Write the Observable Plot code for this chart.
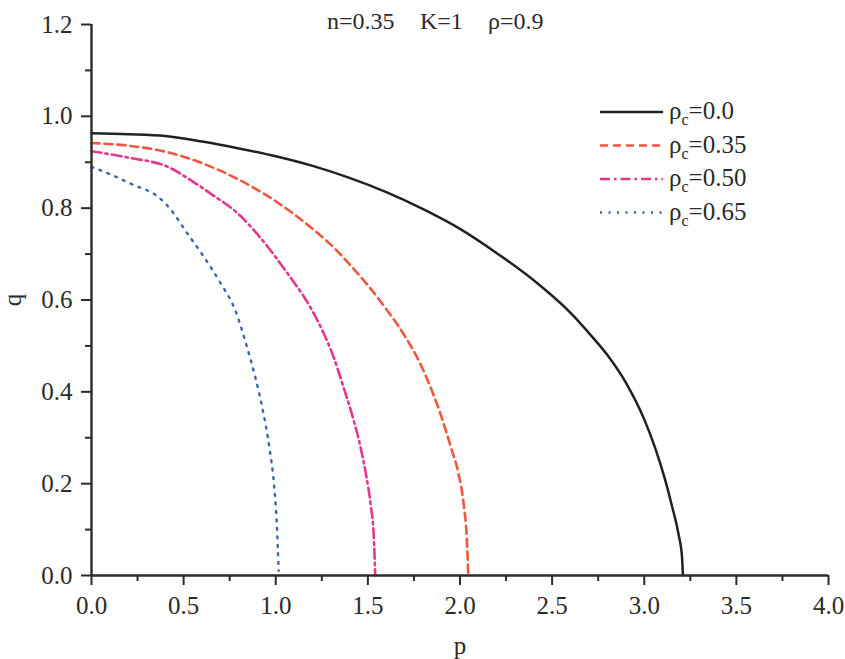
<!DOCTYPE html>
<html><head><meta charset="utf-8">
<script src="https://cdn.jsdelivr.net/npm/d3@7"></script>
<script src="https://cdn.jsdelivr.net/npm/@observablehq/plot@0.6"></script>
<style>
body{margin:0;background:#fff;}
#wrap{position:relative;width:845px;height:659px;font-family:"Liberation Serif","Times New Roman",serif;color:#2b2b28;}
.tt{position:absolute;top:9px;font-size:24px;line-height:24px;white-space:pre;}
#legend{position:absolute;left:0;top:0;pointer-events:none;}
</style></head><body><div id="wrap"></div>
<script>
// ---- data ----
const titleParts = ["n=0.35", "K=1", "ρ=0.9"];
const seriesLabels = ["0.0", "0.35", "0.50", "0.65"];
const xTicks = [0, 0.5, 1, 1.5, 2, 2.5, 3, 3.5, 4];
const xMinor = [0.25, 0.75, 1.25, 1.75, 2.25, 2.75, 3.25, 3.75];
const yTicks = [0, 0.2, 0.4, 0.6, 0.8, 1.0, 1.2];
const yMinor = [0.1, 0.3, 0.5, 0.7, 0.9, 1.1];

const p00 = [0, 0.2, 0.4, 0.6, 0.8, 1.0, 1.2, 1.4, 1.6, 1.8, 2.0, 2.2, 2.4, 2.6, 2.7, 2.8, 2.9, 3.0, 3.06, 3.11, 3.15, 3.185, 3.205, 3.21];
const q00 = [0.963, 0.961, 0.957, 0.945, 0.930, 0.913, 0.892, 0.866, 0.835, 0.798, 0.755, 0.702, 0.643, 0.572, 0.528, 0.48, 0.42, 0.34, 0.277, 0.213, 0.152, 0.092, 0.04, 0.0];

const p35 = [0, 0.2, 0.4, 0.6, 0.8, 1.0, 1.2, 1.3, 1.4, 1.5, 1.6, 1.7, 1.78, 1.85, 1.9, 1.95, 1.99, 2.02, 2.037, 2.045];
const q35 = [0.942, 0.936, 0.923, 0.898, 0.862, 0.815, 0.755, 0.72, 0.678, 0.632, 0.58, 0.522, 0.465, 0.40, 0.345, 0.28, 0.225, 0.155, 0.08, 0.0];

const p50 = [0, 0.2, 0.42, 0.55, 0.66, 0.79, 0.924, 1.06, 1.185, 1.255, 1.31, 1.364, 1.418, 1.46, 1.49, 1.515, 1.532, 1.54];
const q50 = [0.924, 0.910, 0.889, 0.858, 0.828, 0.790, 0.732, 0.66, 0.586, 0.532, 0.480, 0.415, 0.345, 0.28, 0.22, 0.155, 0.085, 0.0];

const p65 = [0, 0.1, 0.22, 0.37, 0.43, 0.52, 0.6, 0.7, 0.78, 0.84, 0.89, 0.93, 0.965, 0.99, 1.006, 1.016];
const q65 = [0.89, 0.874, 0.852, 0.822, 0.797, 0.745, 0.70, 0.637, 0.578, 0.503, 0.43, 0.36, 0.28, 0.2, 0.11, 0.01];

// ---- styles ----
const styles = [
  {stroke: "#1c241c", dash: null, width: 2.5},
  {stroke: "#f0573f", dash: "8,5", width: 2.6},
  {stroke: "#e2388f", dash: "10,4,2.5,4", width: 2.6},
  {stroke: "#4062b0", dash: "2,6.5", width: 2.4}
];
const toRows = (ps, qs) => ps.map((p, i) => ({p, q: qs[i]}));
const curves = [toRows(p00, q00), toRows(p35, q35), toRows(p50, q50), toRows(p65, q65)];

const axisColor = "#2b2b28";
const fmt = d3.format(".1f");

const lineMarks = curves.map((rows, i) => Plot.line(rows, {
  x: "p", y: "q", curve: "monotone-x",
  stroke: styles[i].stroke, strokeWidth: styles[i].width,
  strokeDasharray: styles[i].dash
}));

const chart = Plot.plot({
  width: 845, height: 659,
  marginLeft: 91, marginRight: 17, marginTop: 24, marginBottom: 84,
  style: {fontFamily: "'Liberation Serif','Times New Roman',serif", fontSize: "25px", color: axisColor, background: "#fff", overflow: "visible"},
  x: {domain: [0, 4]},
  y: {domain: [0, 1.2]},
  marks: [
    Plot.axisX({ticks: xMinor, tickSize: 6, tickFormat: () => "", label: null, strokeWidth: 2}),
    Plot.axisX({ticks: xTicks, tickSize: 10, tickPadding: 11, tickFormat: fmt, label: "p", labelAnchor: "center", labelArrow: "none", labelOffset: 78, strokeWidth: 2}),
    Plot.axisY({ticks: yMinor, tickSize: 6, tickFormat: () => "", label: null, strokeWidth: 2}),
    Plot.axisY({ticks: yTicks, tickSize: 10, tickPadding: 9, tickFormat: fmt, label: "q", labelAnchor: "center", labelArrow: "none", strokeWidth: 2}),
    ...lineMarks,
    Plot.ruleY([0], {stroke: axisColor, strokeWidth: 2.4}),
    Plot.ruleX([0], {stroke: axisColor, strokeWidth: 2.4})
  ]
});
const wrap = document.getElementById("wrap");
wrap.appendChild(chart);

// title
const titleLefts = [327, 420, 488];
titleParts.forEach((t, i) => {
  const s = document.createElement("div");
  s.className = "tt"; s.style.left = titleLefts[i] + "px"; s.textContent = t;
  wrap.appendChild(s);
});

// legend
const lg = d3.select(wrap).append("svg").attr("id", "legend").attr("width", 845).attr("height", 659);
seriesLabels.forEach((lab, i) => {
  const y = 112 + i * 33.5;
  lg.append("line").attr("x1", 600).attr("x2", 663).attr("y1", y).attr("y2", y)
    .attr("stroke", styles[i].stroke).attr("stroke-width", styles[i].width)
    .attr("stroke-dasharray", styles[i].dash);
  const t = lg.append("text").attr("x", 669).attr("y", y + 7)
    .attr("font-family", "'Liberation Serif','Times New Roman',serif").attr("font-size", 25).attr("fill", axisColor);
  t.append("tspan").text("ρ");
  t.append("tspan").attr("font-size", 16).attr("dy", 6).text("c");
  t.append("tspan").attr("dy", -6).text("=" + lab);
});
</script></body></html>
